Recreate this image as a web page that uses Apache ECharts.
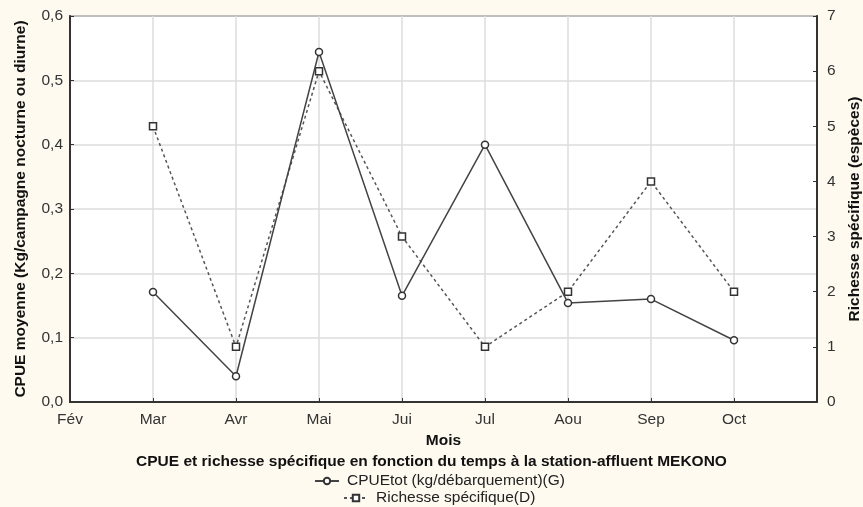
<!DOCTYPE html>
<html><head><meta charset="utf-8">
<script src="https://cdn.jsdelivr.net/npm/echarts@6/dist/echarts.min.js"></script>
<style>html,body{margin:0;padding:0;background:#fffaf0;overflow:hidden;}#c{width:863px;height:507px;}</style>
</head><body><div id="c"></div>
<script>
const months = ['Fév','Mar','Avr','Mai','Jui','Jul','Aou','Sep','Oct',''];
const cpue = [null,0.171,0.040,0.544,0.165,0.400,0.154,0.160,0.096,null];
const richesse = [null,5,1,6,3,1,2,4,2,null];
const leftTicks = {min:0,max:0.6,interval:0.1};
const rightTicks = {min:0,max:7,interval:1};
const titleText = 'CPUE et richesse spécifique en fonction du temps à la station-affluent MEKONO';
const nameG = 'CPUEtot (kg/débarquement)(G)';
const nameD = 'Richesse spécifique(D)';

const font = 'Arial, "Liberation Sans", sans-serif';
const chart = echarts.init(document.getElementById('c'), null, {width:863, height:507});
chart.setOption({
  backgroundColor:'#fffaf0',
  textStyle:{fontFamily:font},
  title:{text:titleText,left:'center',top:449,textStyle:{fontSize:15.5,fontWeight:'bold',color:'#111',fontFamily:font}},
  legend:[
    {data:[nameG],top:473,left:314,itemWidth:24,itemHeight:8,itemGap:4,textStyle:{fontSize:15.5,color:'#222',fontFamily:font,padding:[0,0,0,3]},padding:0},
    {data:[nameD],top:490,left:343,itemWidth:24,itemHeight:8,itemGap:4,textStyle:{fontSize:15.5,color:'#222',fontFamily:font,padding:[0,0,0,3]},padding:0}
  ],
  grid:{left:70,right:46,top:16,bottom:105,show:true,backgroundColor:'#fff',borderColor:'#333',borderWidth:1.5,outerBoundsMode:'none',containLabel:false},
  xAxis:{type:'category',data:months,boundaryGap:false,
    name:'Mois',nameLocation:'middle',nameGap:30,nameTextStyle:{fontSize:15.5,fontWeight:'bold',color:'#111'},
    axisLine:{lineStyle:{color:'#333',width:2}},
    axisTick:{inside:true,length:4,lineStyle:{color:'#333'}},
    axisLabel:{fontSize:15.5,color:'#333',margin:10,interval:0},
    splitLine:{show:true,lineStyle:{color:'#ddd',width:1.5}}},
  yAxis:[
    {type:'value',min:leftTicks.min,max:leftTicks.max,interval:leftTicks.interval,position:'left',
     name:'CPUE moyenne (Kg/campagne nocturne ou diurne)',nameLocation:'middle',nameGap:41,nameRotate:90,
     nameTextStyle:{fontSize:15.5,fontWeight:'bold',color:'#111'},
     axisLine:{show:true,lineStyle:{color:'#333',width:2}},
     axisTick:{show:true,inside:true,length:4,lineStyle:{color:'#333'}},
     axisLabel:{fontSize:15.5,color:'#333',margin:7,formatter:v=>v.toFixed(1).replace('.',',')},
     splitLine:{show:true,lineStyle:{color:'#ddd',width:1.5}}},
    {type:'value',min:rightTicks.min,max:rightTicks.max,interval:rightTicks.interval,position:'right',
     name:'Richesse spécifique (espèces)',nameLocation:'middle',nameGap:30,nameRotate:90,
     nameTextStyle:{fontSize:15.5,fontWeight:'bold',color:'#111'},
     axisLine:{show:true,lineStyle:{color:'#333',width:2}},
     axisTick:{show:true,inside:true,length:4,lineStyle:{color:'#333'}},
     axisLabel:{fontSize:15.5,color:'#333',margin:10},
     splitLine:{show:false}}
  ],
  series:[
    {name:nameG,type:'line',yAxisIndex:0,data:cpue,symbol:'circle',symbolSize:7,
     lineStyle:{color:'#444',width:1.5},itemStyle:{color:'#fff',borderColor:'#333',borderWidth:1.5},z:3},
    {name:nameD,type:'line',yAxisIndex:1,data:richesse,symbol:'rect',symbolSize:7,
     lineStyle:{color:'#555',width:1.5,type:[3,3]},itemStyle:{color:'#fff',borderColor:'#333',borderWidth:1.5},z:2}
  ]
});
</script></body></html>
